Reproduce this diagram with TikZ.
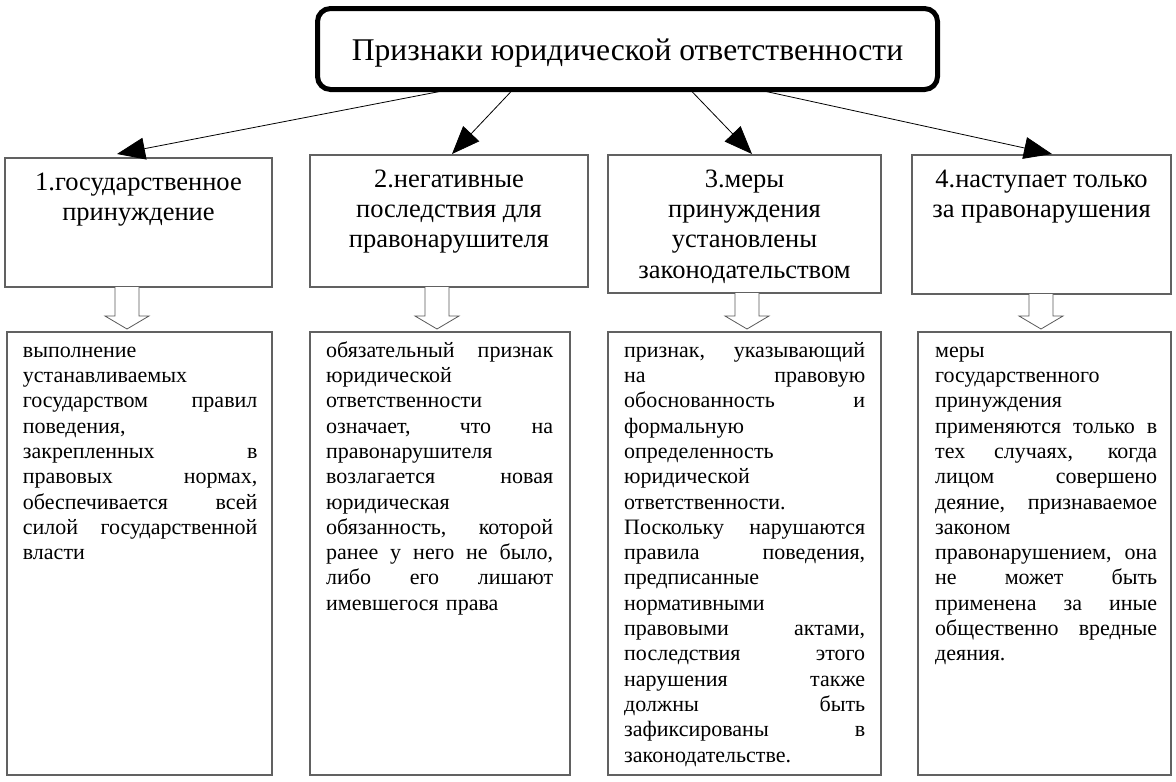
\documentclass[tikz,border=0pt]{standalone}
\usepackage{fontspec}
\setmainfont{Liberation Serif}
\usetikzlibrary{arrows.meta,calc}
\newcommand\J[2]{\leavevmode\hbox to #1{\spaceskip=0.25em plus 1fil\relax #2}}
\newcommand\hollowarr[3]{%
  \path[hollow] let \p1=([xshift=#3]#1.south), \p2=([xshift=#3,yshift=3pt]#2.north) in
    (\x1-12pt,\y1) -- (\x1-12pt,\y2+13pt) -- (\x1-22pt,\y2+13pt) -- (\x1,\y2)
    -- (\x1+22pt,\y2+13pt) -- (\x1+12pt,\y2+13pt) -- (\x1+12pt,\y1);}
\begin{document}
\begin{tikzpicture}[x=1pt,y=-1pt,
  boxst/.style={draw=black!62, line width=1.1pt, inner sep=0pt, outer sep=0pt, anchor=north west},
  ttlbox/.style={draw=black, line width=5pt, rounded corners=13pt, inner sep=0pt, outer sep=0pt, anchor=north west},
  ttltxt/.style={font=\fontsize{31.6}{36}\selectfont, inner sep=0pt, anchor=base},
  hdr/.style={font=\fontsize{26.5}{30.3}\selectfont, align=center, inner sep=0pt, anchor=north},
  body/.style={font=\fontsize{22}{25.3}\selectfont, align=left, inner sep=0pt, anchor=north west},
  conn/.style={line width=0.8pt, -{Triangle[length=28pt,width=22pt]}},
  hollow/.style={draw=black!65, fill=white, line width=0.8pt}
]
\useasboundingbox (0,0) rectangle (1176,782);

% title
\node[ttlbox, minimum width=620pt, minimum height=81pt] (title) at (317.5,8.5) {};
\node[ttltxt] (titletext) at (627.5,60) {Признаки юридической ответственности};

% header boxes
\node[boxst, minimum width=267pt, minimum height=129pt] (h1) at (5,158) {};
\node[boxst, minimum width=278pt, minimum height=132pt] (h2) at (310,155) {};
\node[boxst, minimum width=273pt, minimum height=138pt] (h3) at (608,155) {};
\node[boxst, minimum width=259pt, minimum height=139pt] (h4) at (912,155) {};

\node[hdr] (h1t) at ([yshift=-12pt]h1.north) {\rule{0pt}{20pt}1.государственное\\принуждение};
\node[hdr] (h2t) at ([yshift=-12pt]h2.north) {\rule{0pt}{20pt}2.негативные\\последствия для\\правонарушителя};
\node[hdr] (h3t) at ([yshift=-12pt]h3.north) {\rule{0pt}{20pt}3.меры\\принуждения\\установлены\\законодательством};
\node[hdr] (h4t) at ([yshift=-12pt]h4.north) {\rule{0pt}{20pt}4.наступает только\\за правонарушения};

% body boxes
\node[boxst, minimum width=265pt, minimum height=443pt] (b1) at (7,332) {};
\node[boxst, minimum width=260pt, minimum height=443pt] (b2) at (310,332) {};
\node[boxst, minimum width=273pt, minimum height=443pt] (b3) at (608,332) {};
\node[boxst, minimum width=253pt, minimum height=443pt] (b4) at (918,332) {};

\node[body, text width=234.5pt] (b1t) at ([xshift=15.7pt,yshift=-9pt]b1.north west) {\rule{0pt}{16pt}выполнение\\
устанавливаемых\\
\J{234.5pt}{государством правил}\\
поведения,\\
\J{234.5pt}{закрепленных в}\\
\J{234.5pt}{правовых нормах,}\\
\J{234.5pt}{обеспечивается всей}\\
\J{234.5pt}{силой государственной}\\
власти};

\node[body, text width=227pt] (b2t) at ([xshift=16pt,yshift=-9pt]b2.north west) {\rule{0pt}{16pt}\J{227pt}{обязательный признак}\\
юридической\\
ответственности\\
\J{227pt}{означает, что на}\\
правонарушителя\\
\J{227pt}{возлагается новая}\\
юридическая\\
\J{227pt}{обязанность, которой}\\
\J{227pt}{ранее у него не было,}\\
\J{227pt}{либо его лишают}\\
имевшегося права};

\node[body, text width=241pt] (b3t) at ([xshift=16pt,yshift=-9pt]b3.north west) {\rule{0pt}{16pt}\J{241pt}{признак, указывающий}\\
\J{241pt}{на правовую}\\
\J{241pt}{обоснованность и}\\
формальную\\
определенность\\
юридической\\
ответственности.\\
\J{241pt}{Поскольку нарушаются}\\
\J{241pt}{правила поведения,}\\
предписанные\\
нормативными\\
\J{241pt}{правовыми актами,}\\
\J{241pt}{последствия этого}\\
\J{241pt}{нарушения также}\\
\J{241pt}{должны быть}\\
\J{241pt}{зафиксированы в}\\
законодательстве.};

\node[body, text width=222pt] (b4t) at ([xshift=17pt,yshift=-9pt]b4.north west) {\rule{0pt}{16pt}меры\\
государственного\\
принуждения\\
\J{222pt}{применяются только в}\\
\J{222pt}{тех случаях, когда}\\
\J{222pt}{лицом совершено}\\
\J{222pt}{деяние, признаваемое}\\
законом\\
\J{222pt}{правонарушением, она}\\
\J{222pt}{не может быть}\\
\J{222pt}{применена за иные}\\
\J{222pt}{общественно вредные}\\
деяния.};

% connectors
\draw[conn] ([xshift=-177.5pt]title.south) -- ([xshift=-21.5pt,yshift=4pt]h1.north);
\draw[conn] ([xshift=-114.5pt]title.south) -- ([xshift=3pt,yshift=1pt]h2.north);
\draw[conn] ([xshift=62.5pt]title.south) -- ([xshift=7.5pt,yshift=1pt]h3.north);
\draw[conn] ([xshift=129.5pt]title.south) -- ([xshift=10.5pt,yshift=1pt]h4.north);

% hollow arrows
\hollowarr{h1}{b1}{-11.5pt}
\hollowarr{h2}{b2}{-12pt}
\hollowarr{h3}{b3}{2.5pt}
\hollowarr{h4}{b4}{-0.5pt}
\end{tikzpicture}
\end{document}
